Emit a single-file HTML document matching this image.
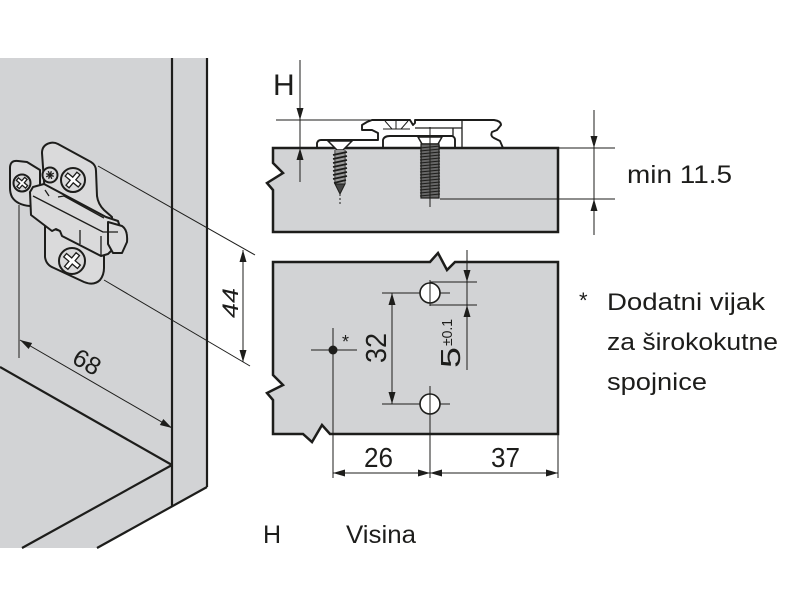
<!DOCTYPE html>
<html><head><meta charset="utf-8"><style>
html,body{margin:0;padding:0;background:#fff;}
svg{display:block;}
text{font-family:"Liberation Sans",Arial,sans-serif;fill:#1d1d1b;}
</style></head><body>
<svg width="800" height="600" viewBox="0 0 800 600" xmlns="http://www.w3.org/2000/svg">
<!-- LEFT: cabinet -->
<polygon points="0,58 207,58 207,487 97,548 0,548" fill="#d2d3d5"/>
<g stroke="#1d1d1b" stroke-width="2.2" fill="none">
<line x1="172" y1="58" x2="172" y2="507"/>
<line x1="207" y1="58" x2="207" y2="487"/>
<line x1="207" y1="487" x2="97" y2="548"/>
<line x1="172" y1="465" x2="22" y2="548"/>
<line x1="0" y1="367" x2="172" y2="465"/>
</g>

<!-- hinge -->
<g stroke="#1d1d1b" stroke-width="2" fill="#dadadb" stroke-linejoin="round">
<path d="M42,153 Q42,145 50,143 Q54,142 58,144 L91,162 Q96,165 96,171 L97,196 Q98,204 104,210 L112,217 L112,224 L45,195 Z"/>
<path d="M10,168 Q10,160 18,161 L27,162 L40,170 L40,200 L30,206 Q17,205 12,197 Q10,193 10,188 Z"/>
<path d="M45,226 L45,257 Q46,265 54,268 L84,282 Q94,286 100,280 Q104,275 104,268 L104,245 Z"/>
<path d="M30,192 L33,187 L44,184 L106,217 L118,221 L121,230 L118,244 L108,254 L101,256 L62,236 L60,231 L56,229 L52,231 L31,215 Z"/>
<path d="M108,222 L122,226 Q128,230 127,242 L122,253 L113,253 L108,244 Z"/>
<path d="M33,196 L103,232 L118,232 M45,190 L49,196 M58,197 L64,196 L104,218 M101,256 L101,236 M80,244 L80,230" fill="none" stroke-width="1.3"/>
<circle cx="22" cy="183" r="8.5"/>
<circle cx="50" cy="175" r="7.5"/>
<circle cx="73" cy="180" r="12"/>
<circle cx="72" cy="261" r="13"/>
</g>
<g stroke="#1d1d1b" stroke-width="1.3" fill="#fff">
<path transform="translate(22,183) rotate(40)" d="M-1.6,-6 L1.6,-6 L1.6,-1.6 L6,-1.6 L6,1.6 L1.6,1.6 L1.6,6 L-1.6,6 L-1.6,1.6 L-6,1.6 L-6,-1.6 L-1.6,-1.6 Z"/>
<path transform="translate(73,180) rotate(40)" d="M-2,-8.5 L2,-8.5 L2,-2 L8.5,-2 L8.5,2 L2,2 L2,8.5 L-2,8.5 L-2,2 L-8.5,2 L-8.5,-2 L-2,-2 Z"/>
<path transform="translate(72,261) rotate(40)" d="M-2.2,-9 L2.2,-9 L2.2,-2.2 L9,-2.2 L9,2.2 L2.2,2.2 L2.2,9 L-2.2,9 L-2.2,2.2 L-9,2.2 L-9,-2.2 L-2.2,-2.2 Z"/>
<path transform="translate(50,175) rotate(20)" d="M-4,0 L4,0 M0,-4 L0,4 M-3,-3 L3,3 M-3,3 L3,-3" fill="none"/>
</g>

<!-- left dimensions -->
<g stroke="#1d1d1b" stroke-width="1" fill="none">
<line x1="98" y1="166" x2="255" y2="255"/>
<line x1="104" y1="280" x2="250" y2="366"/>
<line x1="19" y1="205" x2="19" y2="358"/>
<line x1="243" y1="250" x2="243" y2="362"/>
</g>
<g fill="#1d1d1b">
<polygon points="243,250 239.5,262 246.5,262"/>
<polygon points="243,362 239.5,350 246.5,350"/>
</g>
<g transform="translate(20,340) rotate(30.07)">
<line x1="0" y1="0" x2="175.6" y2="0" stroke="#1d1d1b" stroke-width="1"/>
<polygon points="0,0 12,-3.5 12,3.5" fill="#1d1d1b"/>
<polygon points="175.6,0 163.6,-3.5 163.6,3.5" fill="#1d1d1b"/>
<text x="69" y="-6" font-size="25" text-anchor="middle">68</text>
</g>
<text transform="translate(238,303) rotate(-90)" font-size="22" font-style="italic" text-anchor="middle" textLength="30" lengthAdjust="spacingAndGlyphs">44</text>

<!-- TOP RIGHT: section -->
<polygon points="273,148 558,148 558,232 273,232 273,190 267,183 283,173 273,163" fill="#d2d3d5" stroke="#1d1d1b" stroke-width="2.5"/>
<g stroke="#1d1d1b" stroke-width="1.9" fill="none" stroke-linejoin="round">
<path d="M317,148 L317,143 Q318,140 321,140 L378,140 L378,133 L372,130 L366,130 L362,130 L362,125 L367,122 L372,120 L410,120 L413,125 L415,123 L415,120 L494,120 Q501,121 501,125 L497,130 L492,132 Q490,136 494,138 L500,141 L503,148"/>
<path d="M383,148 L383,140 Q384,136 390,136 L452,136 Q455,137 455,140 L455,148"/>
<path d="M462,120 L462,148 M453,128 L453,136 M415,128 L462,128" stroke-width="1.3"/>
<path d="M385,121 L392,129 M408,121 L401,129 M396,121 L396,129 M383,129 L410,129" stroke-width="1"/>
</g>
<!-- wood screw -->
<g stroke="#1d1d1b">
<polygon points="328,141 352,141 343,150 337,150" fill="#fff" stroke-width="1.5"/>
<rect x="336" y="150" width="8" height="34" fill="#999" stroke="none"/>
<path d="M333,155 L347,152 M333,159 L347,156 M333,163 L347,160 M333,167 L347,164 M333,171 L347,168 M333,175 L347,172 M333,179 L347,176 M334,183 L346,180" stroke-width="1.8"/>
<line x1="335" y1="150" x2="335" y2="184" stroke-width="1"/>
<line x1="345" y1="150" x2="345" y2="184" stroke-width="1"/>
<polygon points="335,184 345,184 340,194" fill="#444" stroke-width="1"/>
<line x1="340" y1="194" x2="340" y2="204" stroke-width="1" stroke-dasharray="2,2"/>
</g>
<!-- machine screw -->
<g stroke="#1d1d1b">
<polygon points="418,137 442,137 438,144 422,144" fill="#fff" stroke-width="1.5"/>
<rect x="421" y="144" width="18" height="54" fill="#666" stroke="#1d1d1b" stroke-width="1.2"/>
<path d="M420,148 L440,146 M420,151 L440,149 M420,154 L440,152 M420,157 L440,155 M420,160 L440,158 M420,163 L440,161 M420,166 L440,164 M420,169 L440,167 M420,172 L440,170 M420,175 L440,173 M420,178 L440,176 M420,181 L440,179 M420,184 L440,182 M420,187 L440,185 M420,190 L440,188 M420,193 L440,191 M420,196 L440,194" stroke-width="1.1"/>
<line x1="430" y1="127" x2="430" y2="207" stroke-width="1"/>
</g>
<!-- H dim -->
<g stroke="#1d1d1b" stroke-width="1">
<line x1="300" y1="60" x2="300" y2="182"/>
<line x1="276" y1="120" x2="372" y2="120"/>
<line x1="558" y1="148" x2="615" y2="148"/>
<line x1="440" y1="199" x2="615" y2="199"/>
<line x1="594" y1="110" x2="594" y2="235"/>
</g>
<g fill="#1d1d1b">
<polygon points="300,120 296.5,108 303.5,108"/>
<polygon points="300,148 296.5,160 303.5,160"/>
<polygon points="594,148 590.5,136 597.5,136"/>
<polygon points="594,199 590.5,211 597.5,211"/>
</g>
<text x="273" y="95" font-size="30">H</text>
<text x="627" y="183" font-size="25" textLength="105" lengthAdjust="spacingAndGlyphs">min 11.5</text>

<!-- BOTTOM RIGHT: plan -->
<polygon points="273,262 430,262 438,253 447,270 455,262 558,262 558,434 330,434 322,425 312,442 303,434 273,434 273,400 267,393 283,385 273,375" fill="#d2d3d5" stroke="#1d1d1b" stroke-width="2.5"/>
<g stroke="#1d1d1b" stroke-width="1" fill="none">
<line x1="382" y1="293" x2="450" y2="293"/>
<line x1="382" y1="404" x2="450" y2="404"/>
<line x1="430" y1="282" x2="477" y2="282"/>
<line x1="430" y1="305" x2="477" y2="305"/>
<line x1="467" y1="250" x2="467" y2="370"/>
<line x1="392" y1="293" x2="392" y2="404"/>
<line x1="311" y1="350" x2="357" y2="350"/>
<line x1="333" y1="328" x2="333" y2="478"/>
<line x1="333" y1="473" x2="558" y2="473"/>
<line x1="558" y1="434" x2="558" y2="478"/>
</g>
<circle cx="430" cy="293" r="10" fill="#fff" stroke="#1d1d1b" stroke-width="1.6"/>
<circle cx="430" cy="404" r="10" fill="#fff" stroke="#1d1d1b" stroke-width="1.6"/>
<g stroke="#1d1d1b" stroke-width="1">
<line x1="430" y1="280" x2="430" y2="306"/>
<line x1="430" y1="386" x2="430" y2="478"/>
</g>
<circle cx="333" cy="350" r="4.5" fill="#1d1d1b"/>
<g fill="#1d1d1b">
<polygon points="467,282 463.5,270 470.5,270"/>
<polygon points="467,305 463.5,317 470.5,317"/>
<polygon points="392,293 388.5,305 395.5,305"/>
<polygon points="392,404 388.5,392 395.5,392"/>
<polygon points="333,473 345,469.5 345,476.5"/>
<polygon points="430,473 418,469.5 418,476.5"/>
<polygon points="430,473 442,469.5 442,476.5"/>
<polygon points="558,473 546,469.5 546,476.5"/>
</g>
<text x="342" y="348" font-size="18">*</text>
<text transform="translate(386,348) rotate(-90)" font-size="29" text-anchor="middle" textLength="30" lengthAdjust="spacingAndGlyphs">32</text>
<text transform="translate(460,368) rotate(-90)" font-size="28" textLength="21" lengthAdjust="spacingAndGlyphs">5</text>
<text transform="translate(452,346) rotate(-90)" font-size="15" textLength="27" lengthAdjust="spacingAndGlyphs">±0.1</text>
<text x="364" y="467" font-size="28" textLength="29" lengthAdjust="spacingAndGlyphs">26</text>
<text x="491" y="467" font-size="28" textLength="29" lengthAdjust="spacingAndGlyphs">37</text>

<!-- legend -->
<text x="579" y="308" font-size="22">*</text>
<text x="607" y="310" font-size="24" textLength="158" lengthAdjust="spacingAndGlyphs">Dodatni vijak</text>
<text x="607" y="350" font-size="24" textLength="171" lengthAdjust="spacingAndGlyphs">za širokokutne</text>
<text x="607" y="390" font-size="24" textLength="100" lengthAdjust="spacingAndGlyphs">spojnice</text>

<text x="263" y="543" font-size="25">H</text>
<text x="346" y="543" font-size="25" textLength="70" lengthAdjust="spacingAndGlyphs">Visina</text>
</svg>
</body></html>
